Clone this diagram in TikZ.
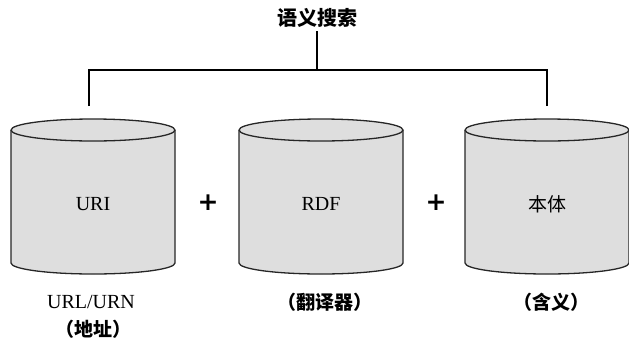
\documentclass[tikz,border=0pt]{standalone}
\usepackage{fontspec}
\setmainfont{Liberation Serif}
\newfontfamily\cjk{Noto Sans CJK SC}
\newfontfamily\plusfont{DejaVu Sans}

\begin{document}
\begin{tikzpicture}[x=1pt,y=-1pt,
    store/.style ={draw=black!85, line width=1.3pt, fill=black!13},
    caption/.style ={font=\fontsize{20}{22}\selectfont},
    note/.style ={font=\cjk\bfseries\fontsize{19}{21}\selectfont},
    plus/.style ={font=\plusfont\bfseries\fontsize{25}{25}\selectfont}]
   \useasboundingbox (0,0) rectangle (629,338);

   % the three stores
   \foreach \cx in {93,321,547} {
     \filldraw[store] (\cx-82,130) -- (\cx-82,263)
        arc[start angle=180, end angle=0, x radius=82, y radius=11]
        -- (\cx+82,130)
        arc[start angle=0, end angle=-180, x radius=82, y radius=11];
     \draw[store, fill=none] (\cx-82,130)
        arc[start angle=180, end angle=0, x radius=82, y radius=11];
   }

   \node[note, font=\cjk\bfseries\fontsize{20}{22}\selectfont] (search) at (317,18) {语义搜索};

   \node[caption] (uri)  at (93,204)  {URI};
   \node[caption] (rdf)  at (321,204) {RDF};
   \node[caption, font=\cjk\fontsize{19}{21}\selectfont] (onto) at (547,204) {本体};

   \node[plus] (plusA) at (208,203) {+};
   \node[plus] (plusB) at (436,203) {+};

   \node[caption] (urlurn) at (91,302) {URL/URN};
   \node[note] (addr)   at (93,329) {（地址）};
   \node[note] (trans)  at (325,302) {（翻译器）};
   \node[note] (mean)   at (551,302) {（含义）};

   \coordinate (split) at (317,70);
   \coordinate (uritop) at (89,106);
   \coordinate (ontotop) at (547,106);
   \draw[line width=1.3pt] (search) -- (split);
   \draw[line width=1.3pt] (uritop) |- (split);
   \draw[line width=1.3pt] (ontotop) |- (split);
 \end{tikzpicture}
\end{document}
